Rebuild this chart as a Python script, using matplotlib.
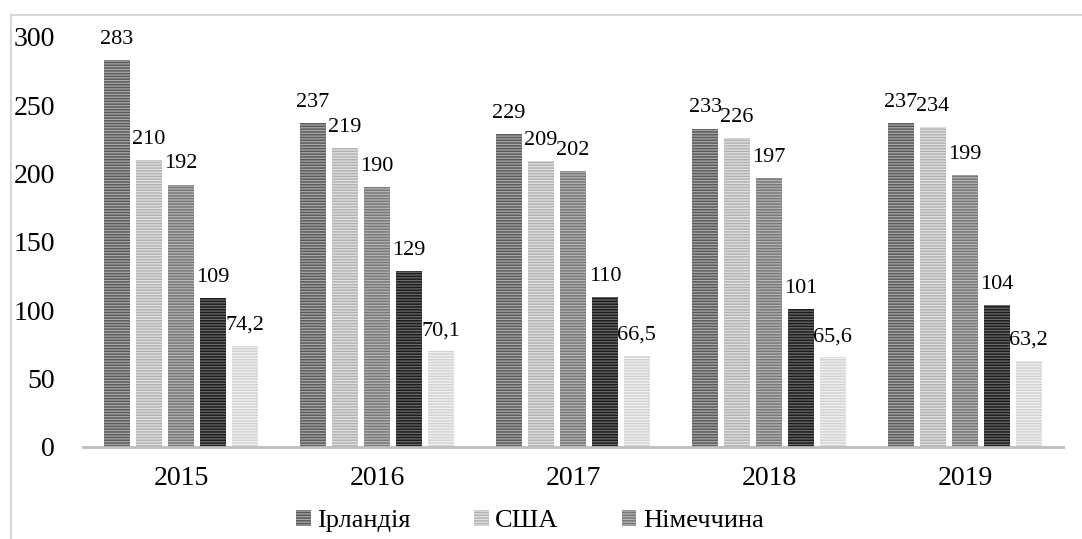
import matplotlib
matplotlib.use('Agg')
import matplotlib.pyplot as plt
from matplotlib.patches import Rectangle
import numpy as np

years = ["2015", "2016", "2017", "2018", "2019"]
ireland = [283, 237, 229, 233, 237]
usa = [210, 219, 209, 226, 234]
germany = [192, 190, 202, 197, 199]
series4 = [109, 129, 110, 101, 104]
series5 = [74.2, 70.1, 66.5, 65.6, 63.2]
legend_names = ["Ірландія", "США", "Німеччина"]

# (face, stripe) colours per series
styles = [
    ("#a8a8a8", "#5a5a5a"),
    ("#e2e2e2", "#b2b2b2"),
    ("#b4b4b4", "#787878"),
    ("#6a6a6a", "#1c1c1c"),
    ("#f2f2f2", "#d2d2d2"),
]

plt.rcParams['font.family'] = ['Liberation Serif', 'DejaVu Serif']
plt.rcParams['hatch.linewidth'] = 1.1

fig = plt.figure(figsize=(10.82, 5.39), dpi=100)
ax = fig.add_axes([0.0767, 0.1707, 0.9057, 0.7607])

x = np.arange(len(years))
step = 0.163
width = 0.133
all_series = [ireland, usa, germany, series4, series5]
containers = []
for i, vals in enumerate(all_series):
    face, stripe = styles[i]
    bars = ax.bar(x + (i - 2) * step, vals, width, color=face, edgecolor=stripe,
                  linewidth=0, hatch='------', zorder=2)
    containers.append(bars)
    labels = [f"{v:g}".replace('.', ',') for v in vals]
    ax.bar_label(bars, labels=labels, padding=8, fontsize=16)

ax.set_xlim(-0.5, 4.5)
ax.set_ylim(0, 300)
ax.set_yticks(range(0, 301, 50))
ax.set_xticks(x)
ax.set_xticklabels(years)
ax.tick_params(axis='y', length=0, pad=20, labelsize=20)
ax.tick_params(axis='x', length=0, pad=14, labelsize=20)

for side in ["top", "right", "left"]:
    ax.spines[side].set_visible(False)
ax.spines["bottom"].set_color("#bfbfbf")
ax.spines["bottom"].set_linewidth(2)

ax.legend([c[0] for c in containers[:3]], legend_names, loc='center',
          bbox_to_anchor=(0.456, -0.18), ncol=3, frameon=False, fontsize=19,
          handlelength=0.55, handleheight=0.55, handletextpad=0.25,
          columnspacing=2.4)

# thin outer frame
fig.patches.append(Rectangle((0.0102, -0.05), 1.1, 0.022 + 1.0, transform=fig.transFigure,
                             fill=False, edgecolor="#d9d9d9", linewidth=1.5))

fig.savefig("out.png", dpi=100)
